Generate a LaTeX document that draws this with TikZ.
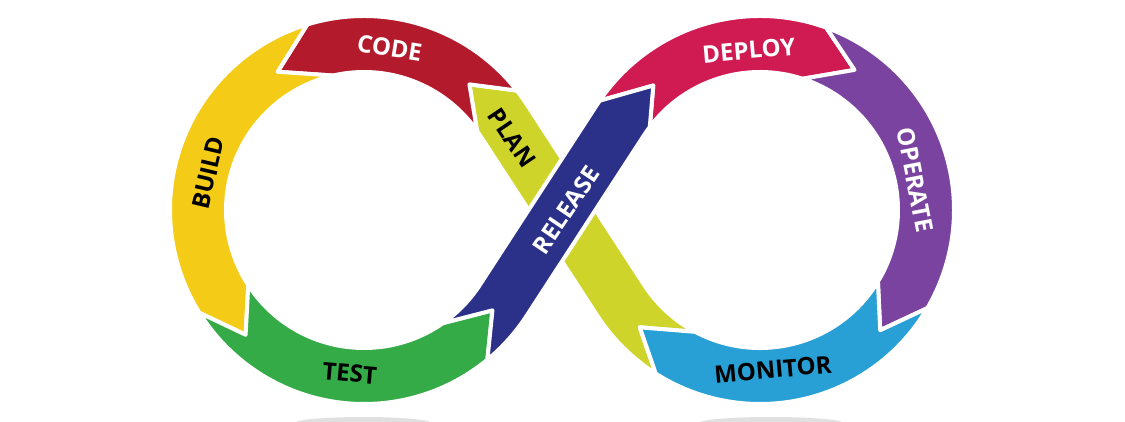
\documentclass[tikz,border=0pt]{standalone}
\usepackage{fontspec}
\setmainfont{Open Sans}
\usepackage{tikz}

\definecolor{plancol}{RGB}{207,212,43}
\definecolor{codecol}{RGB}{179,27,44}
\definecolor{buildcol}{RGB}{244,203,22}
\definecolor{testcol}{RGB}{52,171,71}
\definecolor{releasecol}{RGB}{43,48,137}
\definecolor{deploycol}{RGB}{208,26,82}
\definecolor{operatecol}{RGB}{122,67,160}
\definecolor{monitorcol}{RGB}{40,160,213}

\tikzset{
  piece/.style={draw=white, line width=4pt, line join=round},
  lbl/.style={font=\bfseries\fontsize{24}{24}\selectfont, inner sep=0pt},
}

\begin{document}
\begin{tikzpicture}[x=1pt, y=1pt]
\useasboundingbox (0,0) rectangle (1125,421);

\coordinate (L) at (364,211);
\coordinate (R) at (760,211);

% junctions: inner corner, outer corner, tip
\coordinate (j1i) at ([shift={(35:138)}]L);
\coordinate (j1o) at ([shift={(38:194)}]L);
\coordinate (j1t) at ([shift={(50:164)}]L);
\coordinate (j2i) at ([shift={(103:138)}]L);
\coordinate (j2o) at ([shift={(107:194)}]L);
\coordinate (j2t) at ([shift={(122:163)}]L);
\coordinate (j3i) at ([shift={(213:138)}]L);
\coordinate (j3o) at ([shift={(212:194)}]L);
\coordinate (j3t) at ([shift={(226.5:172)}]L);
\coordinate (j4i) at ([shift={(305:138)}]L);
\coordinate (j4o) at ([shift={(309.5:194)}]L);
\coordinate (j4t) at ([shift={(322:163)}]L);
\coordinate (j5i) at ([shift={(143:138)}]R);
\coordinate (j5o) at ([shift={(145.7:194)}]R);
\coordinate (j5t) at ([shift={(130.6:164)}]R);
\coordinate (j6i) at ([shift={(72:138)}]R);
\coordinate (j6o) at ([shift={(70:194)}]R);
\coordinate (j6t) at ([shift={(56:169)}]R);
\coordinate (j7i) at ([shift={(-31.3:138)}]R);
\coordinate (j7o) at ([shift={(-30.4:194)}]R);
\coordinate (j7t) at ([shift={(-45:170)}]R);
\coordinate (j8i) at ([shift={(-118:138)}]R);
\coordinate (j8o) at ([shift={(-122.5:194)}]R);
\coordinate (j8t) at ([shift={(-135.7:168)}]R);

% tangent points of the crossing strands
\coordinate (ta) at ([shift={(33:138)}]L);
\coordinate (tc) at ([shift={(-33:138)}]L);
\coordinate (te) at ([shift={(147:138)}]R);
\coordinate (tg) at ([shift={(213:138)}]R);

% shadows
\begin{scope}
\clip (0,0) rectangle (1125,421);
\fill[black!12] (363,-2) ellipse[x radius=68, y radius=6];
\fill[black!12] (771,-2) ellipse[x radius=72, y radius=6];
\end{scope}

\filldraw[piece, fill=plancol] (j8o) arc[start angle=-122.5, end angle=-147, radius=194] -- (ta) arc[start angle=33, end angle=35, radius=138] -- (j1t) -- (j1o) arc[start angle=38, end angle=33, radius=194] -- (tg) arc[start angle=-147, end angle=-118, radius=138] -- (j8t) -- cycle;
\filldraw[piece, fill=codecol] (j1o) arc[start angle=38, end angle=107, radius=194] -- (j2t) -- (j2i) arc[start angle=103, end angle=35, radius=138] -- (j1t) -- cycle;
\filldraw[piece, fill=buildcol] (j2o) arc[start angle=107, end angle=212, radius=194] -- (j3t) -- (j3i) arc[start angle=213, end angle=103, radius=138] -- (j2t) -- cycle;
\filldraw[piece, fill=testcol] (j3o) arc[start angle=212, end angle=309.5, radius=194] -- (j4t) -- (j4i) arc[start angle=305, end angle=213, radius=138] -- (j3t) -- cycle;
\filldraw[piece, fill=deploycol] (j5o) arc[start angle=145.7, end angle=70, radius=194] -- (j6t) -- (j6i) arc[start angle=72, end angle=143, radius=138] -- (j5t) -- cycle;
\filldraw[piece, fill=operatecol] (j6o) arc[start angle=70, end angle=-30.4, radius=194] -- (j7t) -- (j7i) arc[start angle=-31.3, end angle=72, radius=138] -- (j6t) -- cycle;
\filldraw[piece, fill=monitorcol] (j7o) arc[start angle=-30.4, end angle=-122.5, radius=194] -- (j8t) -- (j8i) arc[start angle=-118, end angle=-31.3, radius=138] -- (j7t) -- cycle;
\filldraw[piece, fill=releasecol] (j4o) arc[start angle=-50.5, end angle=-33, radius=194] -- (te) arc[start angle=147, end angle=143, radius=138] -- (j5t) -- (j5o) arc[start angle=145.7, end angle=147, radius=194] -- (tc) arc[start angle=-33, end angle=-55, radius=138] -- (j4t) -- cycle;

\node[lbl, white, rotate=-9] (code) at ([shift={(81:164)}]L) {CODE};
\node[lbl, rotate=76.6] (build) at ([shift={(166.6:160)}]L) {BUILD};
\node[lbl, rotate=-5] (test) at ([shift={(265:164)}]L) {TEST};
\node[lbl, rotate=-56] (plan) at (512,283) {PLAN};
\node[lbl, white, rotate=56] (release) at (566,211) {RELEASE};
\node[lbl, white, rotate=5] (deploy) at ([shift={(94:160)}]R) {DEPLOY};
\node[lbl, white, rotate=-79] (operate) at ([shift={(11:158)}]R) {OPERATE};
\node[lbl, rotate=5] (monitor) at ([shift={(-85.4:160)}]R) {MONITOR};
\end{tikzpicture}
\end{document}
